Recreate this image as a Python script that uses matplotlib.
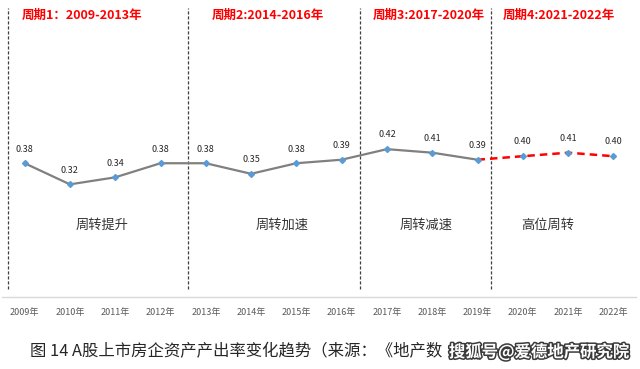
import matplotlib
matplotlib.use("Agg")
import matplotlib.pyplot as plt
import matplotlib.patheffects as pe

plt.rcParams['font.family'] = ['Noto Sans CJK SC', 'DejaVu Sans']

years = ["2009年", "2010年", "2011年", "2012年", "2013年", "2014年", "2015年",
         "2016年", "2017年", "2018年", "2019年", "2020年", "2021年", "2022年"]
values = [0.38, 0.32, 0.34, 0.38, 0.38, 0.35, 0.38, 0.39, 0.42, 0.41, 0.39, 0.40, 0.41, 0.40]
solid_end = 10  # index of 2019, last point of the solid line

period_titles = ["周期1：2009-2013年", "周期2:2014-2016年", "周期3:2017-2020年", "周期4:2021-2022年"]
period_title_x = [-0.07, 4.14, 7.69, 10.56]
phase_labels = ["周转提升", "周转加速", "周转减速", "高位周转"]
phase_label_x = [1.71, 5.69, 8.86, 11.54]
divider_x = [-0.366, 3.607, 7.404, 10.30]

caption = "图 14 A股上市房企资产产出率变化趋势（来源：《地产数"
watermark = "搜狐号@爱德地产研究院"

W, H = 640, 369
fig = plt.figure(figsize=(W / 100, H / 100), dpi=100)
ax_left, ax_right = 2, 636
ax_bottom_px, ax_top_px = 297, 15.4
ax = fig.add_axes([ax_left / W, (H - ax_bottom_px) / H,
                   (ax_right - ax_left) / W, (ax_bottom_px - ax_top_px) / H])
ax.set_xlim(-0.5, len(years) - 0.5)
ax.set_ylim(0, 0.8)

x = list(range(len(years)))
ax.plot(x[:solid_end + 1], values[:solid_end + 1], color="#808080", lw=1.6, zorder=3)
ax.plot(x[solid_end:], values[solid_end:], color="#ff0000", lw=1.8,
        linestyle=(0, (3, 2)), zorder=3)
ax.plot(x, values, linestyle="none", marker="D", markersize=3.0,
        color="#5b9bd5", zorder=4)

for xi, v in zip(x, values):
    ax.annotate(f"{v:.2f}", (xi, v), xytext=(0, 7), textcoords="offset points",
                ha="center", va="bottom", fontsize=6.5, color="#262626")

for dx in divider_x:
    ax.axvline(dx, ymin=0.03, ymax=1.026, color="#404040", lw=0.9,
               linestyle=(0, (2.5, 1.5)), clip_on=False)

for t, tx in zip(period_titles, period_title_x):
    ax.text(tx, 1.0, t, transform=ax.get_xaxis_transform(), ha="left", va="center",
            fontsize=9, fontweight="bold", color="#ff0000", clip_on=False)

for t, tx in zip(phase_labels, phase_label_x):
    ax.text(tx, 0.255, t, transform=ax.get_xaxis_transform(), ha="center", va="center",
            fontsize=9.5, color="#333333")

for s in ["top", "right", "left"]:
    ax.spines[s].set_visible(False)
ax.spines["bottom"].set_color("#d9d9d9")
ax.spines["bottom"].set_linewidth(1.0)
ax.set_yticks([])
ax.set_xticks(x)
ax.set_xticklabels(years, fontsize=6.5, color="#595959")
ax.tick_params(axis="x", length=0, pad=8)

fig.text(30 / W, 1 - 352 / H, caption, ha="left", va="center", fontsize=11.8,
         color="#262626")
fig.text(629 / W, 1 - 352 / H, watermark, ha="right", va="center", fontsize=11.8,
         color="white", fontweight="bold",
         path_effects=[pe.withStroke(linewidth=2.2, foreground="#3a3a3a")])

fig.savefig("out.png", dpi=100, facecolor="white")
